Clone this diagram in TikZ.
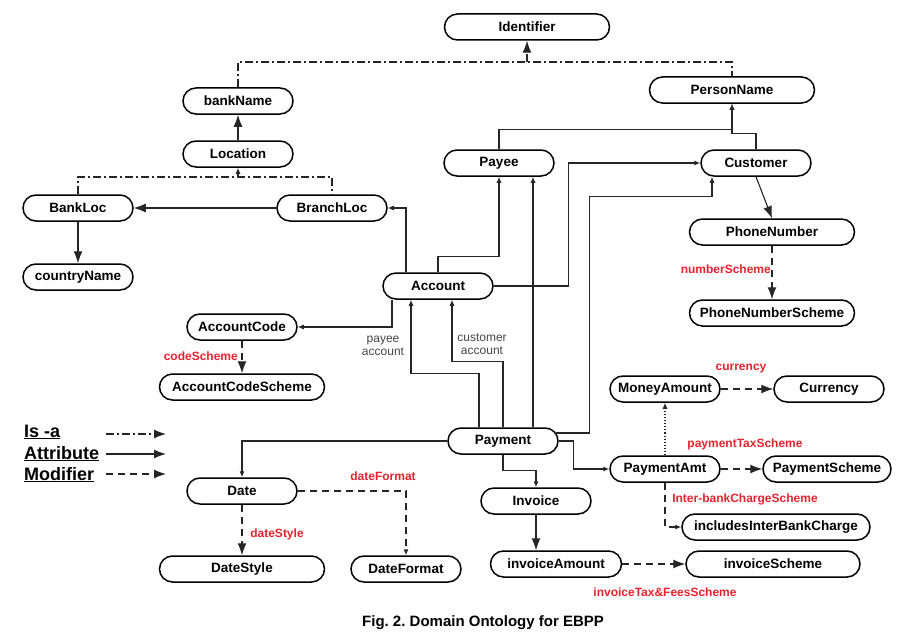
\documentclass[tikz,border=0pt]{standalone}
\usepackage{fontspec}
\setmainfont{Liberation Sans}
\usepackage{tikz}
\usetikzlibrary{arrows.meta}
\definecolor{lblred}{RGB}{230,35,45}
\definecolor{lblgrey}{RGB}{70,70,70}
\frenchspacing
\tikzset{
  box/.style={draw, line width=1.5pt, rounded corners=13pt, minimum height=26pt,
    minimum width=110pt, inner sep=0pt, font=\bfseries\fontsize{13.5}{16}\selectfont},
  conn/.style={line width=1.1pt, draw=black!85},
  bigtip/.style={-{Latex[length=12pt,width=9pt]}},
  smalltip/.style={-{Latex[length=6pt,width=5pt]}},
  attr/.style={conn, smalltip},
  bigattr/.style={conn, bigtip},
  isa/.style={conn, dash pattern=on 8pt off 3pt on 2pt off 3pt},
  modif/.style={conn, dash pattern=on 7pt off 5pt},
  lbl/.style={text=lblred, inner sep=0pt, font=\bfseries\fontsize{12}{14}\selectfont},
  note/.style={text=lblgrey, inner sep=0pt, align=center, font=\fontsize{12}{13}\selectfont},
  legend/.style={anchor=base west, inner sep=0pt, font=\bfseries\fontsize{18}{20}\selectfont},
}

\begin{document}
\begin{tikzpicture}[x=1pt, y=-1pt]
      \useasboundingbox (0,0) rectangle (900,642);
      % nodes
      \node[box, minimum width=165pt] (identifier) at (527,27) {Identifier};
      \node[box] (bankname) at (238,101) {bankName};
      \node[box, minimum width=165pt] (personname) at (732,90) {PersonName};
      \node[box] (location) at (238,154) {Location};
      \node[box] (payee) at (499,163) {Payee};
      \node[box] (customer) at (756,163) {Customer};
      \node[box] (bankloc) at (78,208) {BankLoc};
      \node[box] (branchloc) at (332,208) {BranchLoc};
      \node[box] (countryname) at (78,277) {countryName};
      \node[box, minimum width=165pt] (phonenumber) at (772,232) {PhoneNumber};
      \node[box] (account) at (438,286) {Account};
      \node[box, minimum width=165pt] (phonescheme) at (772,313) {PhoneNumberScheme};
      \node[box] (accountcode) at (242,327) {AccountCode};
      \node[box, minimum width=165pt] (accountscheme) at (242,387) {AccountCodeScheme};
      \node[box] (moneyamount) at (665,389) {MoneyAmount};
      \node[box] (currency) at (829,389) {Currency};
      \node[box] (payment) at (503,441) {Payment};
      \node[box] (paymentamt) at (665,469) {PaymentAmt};
      \node[box, minimum width=128pt] (paymentscheme) at (827,469) {PaymentScheme};
      \node[box] (date) at (242,491) {Date};
      \node[box] (invoice) at (536,501) {Invoice};
      \node[box, minimum width=188pt] (interbank) at (776,527) {includesInterBankCharge};
      \node[box, minimum width=165pt] (datestyle) at (242,569) {DateStyle};
      \node[box] (dateformat) at (406,569) {DateFormat};
      \node[box, minimum width=131pt] (invoiceamount) at (556,564) {invoiceAmount};
      \node[box, minimum width=174pt] (invoicescheme) at (773,564) {invoiceScheme};
      % is-a
      \coordinate (idjoin) at (527,62);
      \coordinate (locjoin) at (238,177);
      \draw[isa] (bankname.north) |- (idjoin) -| (personname.north);
      \draw[isa, bigtip] (idjoin) -- (identifier.south);
      \draw[isa] (bankloc.north) |- (locjoin) -| (branchloc.north);
      \draw[isa, smalltip] (locjoin) -- (location.south);
      % attributes
      \draw[bigattr] (location) -- (bankname);
      \draw[bigattr] (branchloc) -- (bankloc);
      \draw[bigattr] (bankloc) -- (countryname);
      \draw[attr] ([xshift=-32pt]account.north) |- (branchloc.east);
      \draw[attr] (account.north) -- ++(0,-16) -| (payee.south);
      \draw[attr] (account.east) -- ++(75,0) |- (customer.west);
      \draw[attr] (payee.north) -- ++(0,-20) -| (personname.south);
      \draw[attr] (customer.north) -- ++(0,-16) -| (personname.south);
      \draw[bigattr] (customer.south) -- (phonenumber.north);
      \draw[attr] ([xshift=-46pt]account.south) |- (accountcode.east);
      \draw[attr] ([xshift=-24pt]payment.north) -- ++(0,-54) -| ([xshift=-27pt]account.south);
      \draw[attr] (payment.north) -- ++(0,-66) -| ([xshift=14pt]account.south);
      \draw[attr] ([xshift=30pt]payment.north) -- ([xshift=34pt]payee.south);
      \coordinate (custin) at ([xshift=-44pt]customer.south);
      \draw[attr] ([shift={(-3pt,8pt)}]payment.east) -- ++(34,0) |- ([yshift=-20pt]custin) -- (custin);
      \draw[attr] (payment.east) -- ++(15,0) |- (paymentamt.west);
      \draw[attr] (payment.west) -| (date.north);
      \draw[attr] (payment.south) -- ++(0,16) -| (invoice.north);
      \draw[bigattr] (invoice.south) -- ([xshift=-20pt]invoiceamount.north);
      % modifiers
      \draw[modif, bigtip] (phonenumber) -- (phonescheme);
      \draw[modif, bigtip] (accountcode) -- (accountscheme);
      \draw[modif, bigtip] (date) -- (datestyle);
      \draw[modif, smalltip] (date.east) -| (dateformat.north);
      \draw[modif, bigtip] (moneyamount) -- (currency);
      \draw[modif, bigtip] (paymentamt) -- (paymentscheme);
      \draw[modif, smalltip] (paymentamt.south) |- (interbank.west);
      \draw[modif, bigtip] (invoiceamount) -- (invoicescheme);
      \draw[conn, dotted, smalltip] (paymentamt) -- (moneyamount);
      % labels
      \node[lbl, anchor=east] (numberlbl) at (771,269) {numberScheme};
      \node[lbl, anchor=east] (codelbl) at (238,356) {codeScheme};
      \node[lbl] (formatlbl) at (383,476) {dateFormat};
      \node[lbl] (stylelbl) at (277,534) {dateStyle};
      \node[lbl] (currencylbl) at (741,369) {currency};
      \node[lbl] (taxlbl) at (745,444) {paymentTaxScheme};
      \node[lbl] (chargelbl) at (745,499) {Inter-bankChargeScheme};
      \node[lbl] (feeslbl) at (665,592) {invoiceTax\&FeesScheme};
      \node[note] (payeelbl) at (383,346) {payee\\account};
      \node[note] (customerlbl) at (482,344) {customer\\account};
      % legend
      \node[legend] (isatxt) at (24,437) {\underline{Is -a}};
      \node[legend] (attrtxt) at (24,459) {\underline{Attribute}};
      \node[legend] (modtxt) at (24,480) {\underline{Modifier}};
      \coordinate (isafrom) at (106,434);
      \coordinate (isato) at (166,434);
      \coordinate (attrfrom) at (106,454);
      \coordinate (attrto) at (166,454);
      \coordinate (modfrom) at (106,474);
      \coordinate (modto) at (166,474);
      \draw[isa, bigtip] (isafrom) -- (isato);
      \draw[bigattr] (attrfrom) -- (attrto);
      \draw[modif, bigtip] (modfrom) -- (modto);
      \node[font=\bfseries\fontsize{15}{17}\selectfont] (caption) at (483,623) {Fig. 2. Domain Ontology for EBPP};
    \end{tikzpicture}
\end{document}
